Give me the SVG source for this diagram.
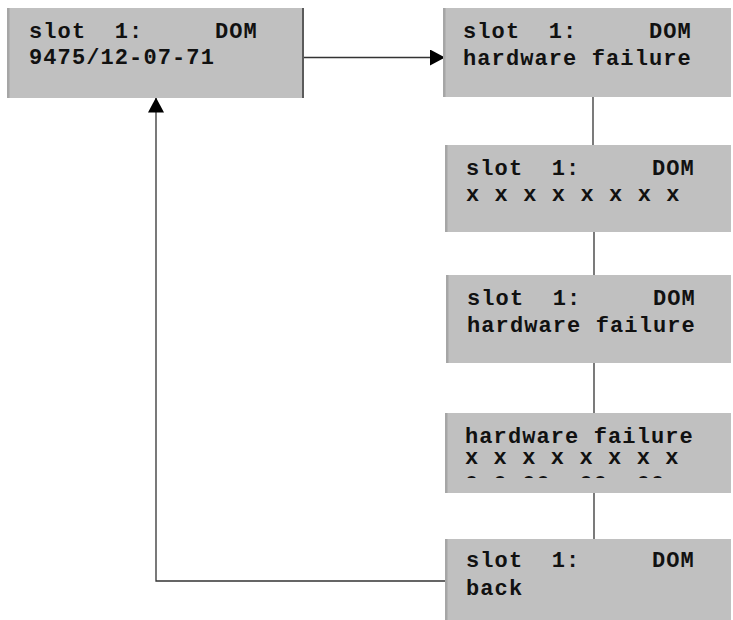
<svg xmlns="http://www.w3.org/2000/svg" width="733" height="620" viewBox="0 0 733 620">
<style>
.box{fill:#c0c0c0}
.strip{fill:#a6a6a6}
.t{font-family:"Liberation Mono","DejaVu Sans Mono",monospace;font-weight:bold;font-size:22px;letter-spacing:1.1px;fill:#111;white-space:pre}
.c{fill:none;stroke:#333;stroke-width:1.3}
</style>
<defs>
<marker id="ah" viewBox="0 0 15 16" refX="15" refY="8" markerWidth="15" markerHeight="16" markerUnits="userSpaceOnUse" orient="auto">
<path d="M0,0 L15,8 L0,16 Z" fill="#000"/>
</marker>
<clipPath id="clip5"><rect x="445" y="413" width="287" height="65"/></clipPath>
</defs>
<rect x="0" y="0" width="733" height="620" fill="#fff"/>
<g id="connectors">
<path class="c" d="M304,57.5 H445" marker-end="url(#ah)"/>
<path class="c" d="M593,97 V145"/>
<path class="c" d="M594,232 V275"/>
<path class="c" d="M594,363 V413"/>
<path class="c" d="M594,493 V539"/>
<path class="c" d="M445,581 H156 V97.5" marker-end="url(#ah)"/>
</g>
<g id="n1">
<rect class="box" x="7" y="8" width="297" height="90"/>
<rect class="strip" x="7" y="8" width="2.5" height="90"/>
<line x1="303" y1="8" x2="303" y2="98" stroke="#3a3a3a" stroke-width="1.5"/>
<text class="t" x="29" y="38">slot  1:     DOM</text>
<text class="t" x="29" y="64">9475/12-07-71</text>
</g>
<g id="n2">
<rect class="box" x="443" y="8" width="288" height="89"/>
<rect class="strip" x="443" y="8" width="2.5" height="89"/>
<text class="t" x="463" y="38">slot  1:     DOM</text>
<text class="t" x="463" y="65">hardware failure</text>
</g>
<g id="n3">
<rect class="box" x="445" y="145" width="286" height="87"/>
<rect class="strip" x="445" y="145" width="2.5" height="87"/>
<text class="t" x="466" y="175">slot  1:     DOM</text>
<text class="t" x="466" y="201">x x x x x x x x</text>
</g>
<g id="n4">
<rect class="box" x="446" y="275" width="285" height="88"/>
<rect class="strip" x="446" y="275" width="2.5" height="88"/>
<text class="t" x="467" y="305">slot  1:     DOM</text>
<text class="t" x="467" y="332">hardware failure</text>
</g>
<g id="n5">
<rect class="box" x="445" y="413" width="286" height="80"/>
<rect class="strip" x="445" y="413" width="2.5" height="80"/>
<text class="t" clip-path="url(#clip5)"><tspan x="465" y="443">hardware failure</tspan><tspan x="465" y="464">x x x x x x x x</tspan><tspan x="465" y="491">0 0 00  00  00</tspan></text>
</g>
<g id="n6">
<rect class="box" x="445" y="539" width="286" height="81"/>
<rect class="strip" x="445" y="539" width="2.5" height="81"/>
<text class="t" x="466" y="567">slot  1:     DOM</text>
<text class="t" x="466" y="595">back</text>
</g>
</svg>
